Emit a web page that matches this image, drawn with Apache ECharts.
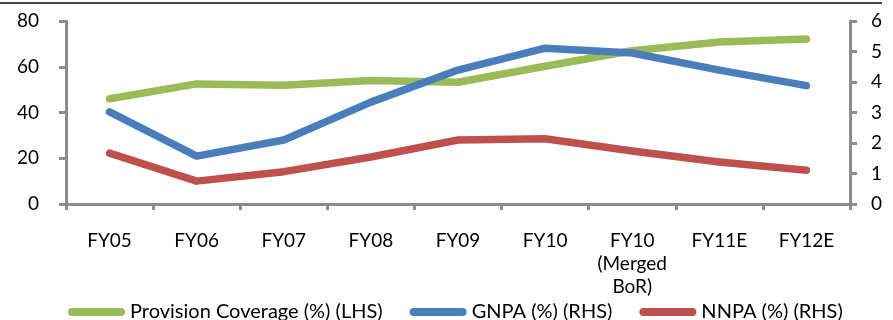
<!DOCTYPE html>
<html>
<head>
<meta charset="utf-8">
<script src="https://cdn.jsdelivr.net/npm/echarts@6/dist/echarts.min.js"></script>
<style>
  html, body { margin: 0; padding: 0; background: #fff; }
  #chart { width: 893px; height: 320px; }
</style>
</head>
<body>
<div id="chart"></div>
<script>
// Fiscal-year categories
const categories = ['FY05', 'FY06', 'FY07', 'FY08', 'FY09', 'FY10', 'FY10\n(Merged\nBoR)', 'FY11E', 'FY12E'];
// Provision coverage, % (left axis)
const provisionCoverage = [46.0, 52.5, 51.9, 54.0, 53.2, 60.2, 67.0, 70.8, 72.1];
// Gross NPA, % (right axis)
const gnpa = [3.02, 1.57, 2.10, 3.34, 4.39, 5.11, 4.95, 4.39, 3.88];
// Net NPA, % (right axis)
const nnpa = [1.67, 0.75, 1.06, 1.54, 2.10, 2.14, 1.74, 1.38, 1.11];
// Axis tick values
const leftTicks = [0, 20, 40, 60, 80];
const rightTicks = [0, 1, 2, 3, 4, 5, 6];

const FONT = "Lato, 'Noto Sans', sans-serif";
const AXIS_GRAY = '#8c8c8c';
const legendIcon = 'path://M4,0 H53 A4,4 0 0 1 53,8 H4 A4,4 0 0 1 4,0 Z';

const chart = echarts.init(document.getElementById('chart'), null, { renderer: 'canvas' });

const lineSeries = (name, data, color, yIndex) => ({
  name, type: 'line', data, yAxisIndex: yIndex,
  showSymbol: false, symbol: 'none', smooth: false,
  lineStyle: { color, width: 7.5, cap: 'round', join: 'round' },
  itemStyle: { color },
  emphasis: { disabled: true },
  animation: false
});

chart.setOption({
  animation: false,
  textStyle: { fontFamily: FONT },
  grid: { left: 66, right: 43, top: 21, bottom: 116, containLabel: false },
  graphic: [{
    type: 'line', shape: { x1: 0, y1: 3, x2: 882, y2: 3 },
    style: { stroke: '#444', lineWidth: 2 }
  }],
  legend: {
    left: 63, top: 296,
    itemWidth: 57, itemHeight: 8, itemGap: 27,
    textStyle: { fontFamily: FONT, fontSize: 20, lineHeight: 22, color: '#000', padding: [0, 0, 0, 0] },
    data: [
      { name: 'Provision Coverage (%) (LHS)', icon: legendIcon },
      { name: 'GNPA (%) (RHS)', icon: legendIcon },
      { name: 'NNPA (%) (RHS)', icon: legendIcon }
    ]
  },
  xAxis: {
    type: 'category', data: categories, boundaryGap: true,
    axisLine: { lineStyle: { color: AXIS_GRAY, width: 3 } },
    axisTick: { show: true, length: 6, lineStyle: { color: AXIS_GRAY, width: 3 } },
    axisLabel: { color: '#000', fontSize: 19, margin: 25, lineHeight: 23, interval: 0, fontFamily: FONT }
  },
  yAxis: [{
    type: 'value', min: leftTicks[0], max: leftTicks[leftTicks.length - 1], interval: 20,
    splitLine: { show: false },
    axisLine: { show: true, lineStyle: { color: AXIS_GRAY, width: 3 } },
    axisTick: { show: true, length: 7, lineStyle: { color: AXIS_GRAY, width: 3 } },
    axisLabel: { color: '#000', fontSize: 19, margin: 27, fontFamily: FONT }
  }, {
    type: 'value', min: rightTicks[0], max: rightTicks[rightTicks.length - 1], interval: 1,
    splitLine: { show: false },
    axisLine: { show: true, lineStyle: { color: AXIS_GRAY, width: 3 } },
    axisTick: { show: true, length: 7, lineStyle: { color: AXIS_GRAY, width: 3 } },
    axisLabel: { color: '#000', fontSize: 19, margin: 21, fontFamily: FONT }
  }],
  series: [
    lineSeries('Provision Coverage (%) (LHS)', provisionCoverage, '#9bbb59', 0),
    lineSeries('GNPA (%) (RHS)', gnpa, '#4a7ebb', 1),
    lineSeries('NNPA (%) (RHS)', nnpa, '#c0504d', 1)
  ]
});
</script>
</body>
</html>
